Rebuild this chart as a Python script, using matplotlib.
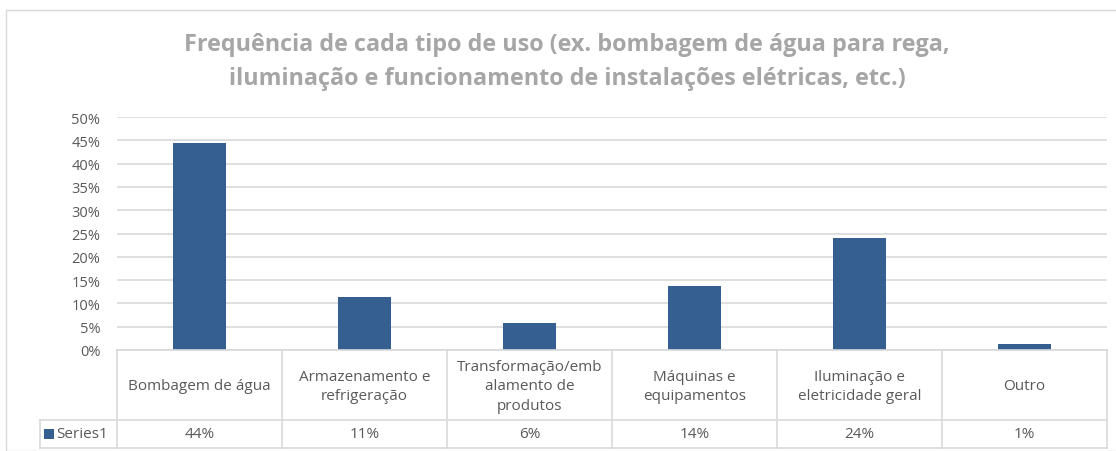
import matplotlib.pyplot as plt
from matplotlib.lines import Line2D
from matplotlib.patches import Rectangle

categories = ["Bombagem de água", "Armazenamento e\nrefrigeração",
              "Transformação/emb\nalamento de\nprodutos", "Máquinas e\nequipamentos",
              "Iluminação e\neletricidade geral", "Outro"]
values = [0.444, 0.114, 0.058, 0.137, 0.240, 0.013]
table_labels = ["44%", "11%", "6%", "14%", "24%", "1%"]
series_name = "Series1"
yticks = [0, 0.05, 0.10, 0.15, 0.20, 0.25, 0.30, 0.35, 0.40, 0.45, 0.50]

title = ("Frequência de cada tipo de uso (ex. bombagem de água para rega,\n"
         "iluminação e funcionamento de instalações elétricas, etc.)")

bar_color = "#355F91"
grid_color = "#D9D9D9"
text_color = "#595959"

plt.rcParams['font.family'] = ['Open Sans', 'DejaVu Sans']

W, H = 1116, 452
fig = plt.figure(figsize=(W / 100, H / 100), dpi=100)

# pixel helpers (top-left origin)
def fx(px):
    return px / W

def fy(py):
    return 1 - py / H

left, right, top, bottom = 117, 1107, 118, 351
ax = fig.add_axes([fx(left), fy(bottom), fx(right) - fx(left), fy(top) - fy(bottom)])

n = len(categories)
ax.bar(range(n), values, width=0.32, color=bar_color, zorder=3)
ax.set_xlim(-0.5, n - 0.5)
ax.set_ylim(0, 0.5)
ax.set_yticks(yticks)
ax.set_yticklabels([f"{int(round(t * 100))}%" for t in yticks], fontsize=10.5, color=text_color)
ax.tick_params(axis='y', length=0, pad=12)
ax.set_xticks([])
ax.grid(axis='y', color=grid_color, linewidth=1.2, zorder=0)
for s in ax.spines.values():
    s.set_visible(False)

# chart border
fig.add_artist(Rectangle((fx(6), fy(452)), 1.2, fy(11) - fy(452), transform=fig.transFigure,
                         fill=False, edgecolor=grid_color, linewidth=1))

# data table
row1, row2, row3 = 351, 421, 449
tab_left = 40
lc = grid_color
lines = [
    ((left, right), (row1, row1)),
    ((tab_left, right), (row2, row2)),
    ((tab_left, right), (row3, row3)),
    ((tab_left, tab_left), (row2, row3)),
]
cell_w = (right - left) / n
for i in range(n + 1):
    x = left + i * cell_w
    lines.append(((x, x), (row1, row3)))
for xs, ys in lines:
    fig.add_artist(Line2D([fx(xs[0]), fx(xs[1])], [fy(ys[0]), fy(ys[1])],
                          transform=fig.transFigure, color=lc, linewidth=1.2))

for i in range(n):
    cx = left + (i + 0.5) * cell_w
    fig.text(fx(cx), fy((row1 + row2) / 2 + 1), categories[i], ha='center', va='center',
             fontsize=11, color=text_color, linespacing=1.45)
    fig.text(fx(cx), fy((row2 + row3) / 2), table_labels[i], ha='center', va='center',
             fontsize=11, color=text_color)

fig.add_artist(Rectangle((fx(44), fy(440)), fx(10), fy(430) - fy(440), transform=fig.transFigure,
                         facecolor=bar_color, edgecolor='none'))
fig.text(fx(56), fy((row2 + row3) / 2), series_name, ha='left', va='center',
         fontsize=11, color=text_color)

fig.text(fx(567), fy(62), title, ha='center', va='center', fontsize=16.8,
         fontweight='bold', color="#A6A6A6", linespacing=1.55)

fig.savefig("out.png", dpi=100)
